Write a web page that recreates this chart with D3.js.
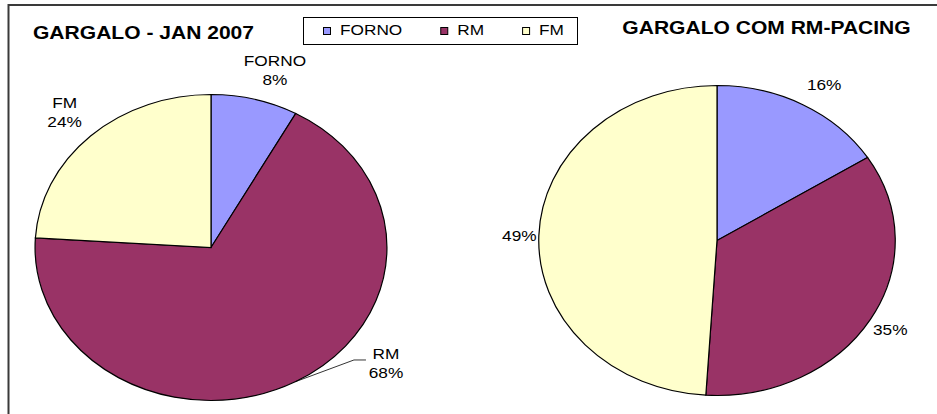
<!DOCTYPE html>
<html>
<head>
<meta charset="utf-8">
<script src="https://cdn.jsdelivr.net/npm/d3@7"></script>
<style>
body{margin:0;background:#fff}
text{font-family:Arial,"Liberation Sans",sans-serif;fill:#000}
</style>
</head>
<body>
<svg id="chart" width="937" height="414"></svg>
<script>
var categories = ["FORNO", "RM", "FM"];
var sliceColors = ["#9999ff", "#993366", "#ffffcc"];
var janValues = [8, 68, 24];
var pacingValues = [16, 35, 49];
var janLabels = ["8%", "68%", "24%"];
var pacingLabels = ["16%", "35%", "49%"];
var titles = ["GARGALO - JAN 2007", "GARGALO COM RM-PACING"];

var svg = d3.select("#chart");
var sx = 1.15; // excel chart was stretched sideways

// frame (only top and left edges show in the crop)
svg.append("rect")
	.attr("x", 8.5).attr("y", 5)
	.attr("width", 960).attr("height", 440)
	.attr("fill", "none")
	.attr("stroke", "#3a3a3a")
	.attr("stroke-width", 2);

var pies = [
	{cx: 211, cy: 247.5, r: 153, values: janValues, labels: janLabels, names: true,
	 labelR: [186, 191, 186], shift: [3, -24, 0], title: titles[0], tx: 143.5, ty: 39},
	{cx: 717, cy: 240.5, r: 155, values: pacingValues, labels: pacingLabels, names: false,
	 labelR: [182, 175, 172], shift: [2, 0, 0], title: titles[1], tx: 766.5, ty: 34}
];

var pie = d3.pie().sort(null).value(function(d){ return d; });

pies.forEach(function(p){
	var arc = d3.arc().innerRadius(0).outerRadius(p.r);
	var slices = pie(p.values);

	svg.append("g")
		.attr("transform", "translate(" + p.cx + "," + p.cy + ") scale(" + sx + ",1)")
		.selectAll("path")
		.data(slices)
		.enter().append("path")
		.attr("d", arc)
		.attr("fill", function(d, i){ return sliceColors[i]; })
		.attr("stroke", "#000")
		.attr("stroke-width", 1.2)
		.attr("vector-effect", "non-scaling-stroke");

	// title
	svg.append("text")
		.attr("transform", "translate(" + p.tx + "," + p.ty + ") scale(" + sx + ",1)")
		.attr("text-anchor", "middle")
		.style("font-size", "18.3px")
		.style("font-weight", "bold")
		.text(p.title);

	// data labels
	slices.forEach(function(d, i){
		var mid = (d.startAngle + d.endAngle) / 2;
		var a = mid + p.shift[i] * Math.PI / 180;
		var x = p.cx + sx * p.labelR[i] * Math.sin(a);
		var y = p.cy - p.labelR[i] * Math.cos(a);
		var lines = p.names ? [categories[i], p.labels[i]] : [p.labels[i]];
		var t = svg.append("text")
			.attr("transform", "translate(" + x + "," + y + ") scale(" + sx + ",1)")
			.attr("text-anchor", "middle")
			.style("font-size", "15px");
		var y0 = lines.length == 2 ? -4 : 5.5;
		lines.forEach(function(s, k){
			t.append("tspan").attr("x", 0).attr("y", y0 + k * 19.5).text(s);
		});
		if (p.shift[i] < -5) {
			// label was dragged away, excel draws a leader line
			var ex = p.cx + sx * p.r * Math.sin(mid);
			var ey = p.cy - p.r * Math.cos(mid);
			svg.append("path")
				.attr("d", "M" + ex + "," + ey + "L" + (x - 32) + "," + (y - 3) + "H" + (x - 20))
				.attr("fill", "none")
				.attr("stroke", "#000")
				.attr("stroke-width", 0.8);
		}
	});
});

// legend
var legend = svg.append("g");
legend.append("rect")
	.attr("x", 303.5).attr("y", 17.5)
	.attr("width", 274).attr("height", 27)
	.attr("fill", "#fff")
	.attr("stroke", "#000")
	.attr("stroke-width", 1);

var lx = 323;
categories.forEach(function(c, i){
	legend.append("rect")
		.attr("x", lx + 0.5).attr("y", 27.5)
		.attr("width", 7).attr("height", 7)
		.attr("fill", sliceColors[i])
		.attr("stroke", "#000")
		.attr("stroke-width", 1);
	var t = legend.append("text")
		.attr("transform", "translate(" + (lx + 17) + ",34.5) scale(" + sx + ",1)")
		.style("font-size", "15px")
		.text(c);
	lx += 17 + t.node().getComputedTextLength() * sx + 38;
});
</script>
</body>
</html>
